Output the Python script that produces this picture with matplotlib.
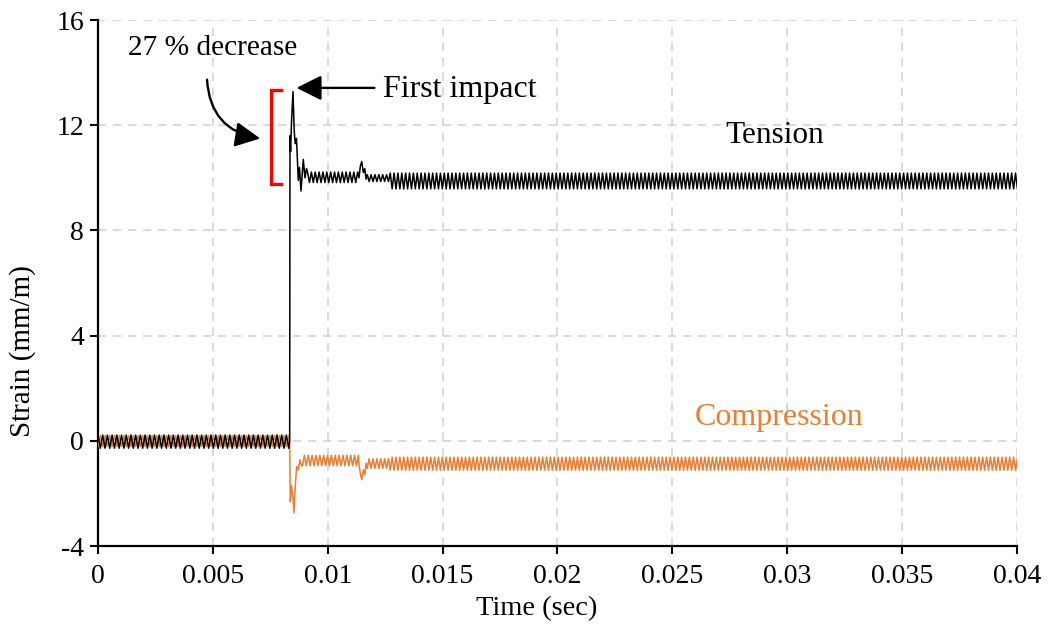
import numpy as np
import matplotlib
matplotlib.use("Agg")
import matplotlib.pyplot as plt
from matplotlib.patches import FancyArrowPatch

plt.rcParams['font.family'] = ['Liberation Serif', 'DejaVu Serif']

# ---- axes ----
x_ticks = [0, 0.005, 0.01, 0.015, 0.02, 0.025, 0.03, 0.035, 0.04]
x_tick_labels = ['0', '0.005', '0.01', '0.015', '0.02', '0.025', '0.03', '0.035', '0.04']
y_ticks = [-4, 0, 4, 8, 12, 16]
y_tick_labels = ['-4', '0', '4', '8', '12', '16']

# ---- oscillation periods (s) ----
period_before = 0.000205
period_after = 0.000168

# ---- tension gauge ----
# steady oscillation bands: start, end, upper, lower
tension_band_start = [0.0, 0.00912, 0.01172, 0.01272]
tension_band_end = [0.00833, 0.01130, 0.01268, 0.04000]
tension_band_upper = [0.22, 10.22, 10.12, 10.18]
tension_band_lower = [-0.28, 9.82, 9.86, 9.58]
# first impact
tension_impact_t = [0.008344, 0.008357, 0.008383, 0.008422, 0.008488, 0.008540,
                    0.008583, 0.008640, 0.008718, 0.008770, 0.008836, 0.008936,
                    0.009010, 0.009075]
tension_impact_v = [0.0, 11.6, 11.0, 12.1, 13.28, 11.8,
                    11.3, 11.5, 9.9, 10.4, 9.5, 10.7,
                    10.0, 10.35]
# second disturbance
tension_bump_t = [0.01136, 0.01142, 0.01148, 0.01155, 0.01161, 0.01167]
tension_bump_v = [10.0, 10.45, 10.62, 10.2, 10.35, 9.95]

# ---- compression gauge ----
compression_band_start = [0.0, 0.00890, 0.01172, 0.01272]
compression_band_end = [0.00833, 0.01130, 0.01268, 0.04000]
compression_band_upper = [0.20, -0.55, -0.68, -0.62]
compression_band_lower = [-0.22, -0.95, -1.05, -1.12]
compression_impact_t = [0.008344, 0.008370, 0.008422, 0.008488, 0.008531, 0.008596,
                        0.008649, 0.008718, 0.008792, 0.008858]
compression_impact_v = [-0.05, -2.3, -1.7, -2.2, -2.74, -1.6,
                        -0.98, -1.1, -0.72, -0.95]
compression_bump_t = [0.01136, 0.01142, 0.01148, 0.01155, 0.01161, 0.01167]
compression_bump_v = [-0.9, -1.25, -1.48, -1.1, -1.3, -0.85]


def band_trace(start, end, upper, lower, period, flip=False):
    """Saw-tooth trace alternating between the band's upper and lower values."""
    half = period / 2.0
    n = int(round((end - start) / half))
    t = start + half * np.arange(n + 1)
    hi_first = np.arange(n + 1) % 2 == 0
    if flip:
        hi_first = ~hi_first
    v = np.where(hi_first, upper, lower)
    return t, v


def build(bs, be, bu, bl, imp_t, imp_v, bump_t, bump_v, flip):
    pieces_t, pieces_v = [], []
    periods = [period_before] + [period_after] * (len(bs) - 1)
    for i in range(len(bs)):
        t, v = band_trace(bs[i], be[i], bu[i], bl[i], periods[i], flip)
        pieces_t.append(t)
        pieces_v.append(v)
        if i == 0:
            pieces_t.append(np.array(imp_t))
            pieces_v.append(np.array(imp_v))
        if i == 1:
            pieces_t.append(np.array(bump_t))
            pieces_v.append(np.array(bump_v))
    return np.concatenate(pieces_t), np.concatenate(pieces_v)


tension_t, tension_v = build(tension_band_start, tension_band_end, tension_band_upper,
                             tension_band_lower, tension_impact_t, tension_impact_v,
                             tension_bump_t, tension_bump_v, False)
compression_t, compression_v = build(compression_band_start, compression_band_end,
                                     compression_band_upper, compression_band_lower,
                                     compression_impact_t, compression_impact_v,
                                     compression_bump_t, compression_bump_v, True)

orange = '#ED7D31'

fig = plt.figure(figsize=(10.49, 6.42), dpi=100)
ax = fig.add_axes([0.0934, 0.1495, 0.8761, 0.8193])

ax.plot(compression_t, compression_v, color=orange, lw=1.1, zorder=3)
ax.plot(tension_t, tension_v, color='black', lw=1.1, zorder=4)

ax.set_xlim(0, 0.04)
ax.set_ylim(-4, 16)
ax.set_xticks(x_ticks)
ax.set_xticklabels(x_tick_labels)
ax.set_yticks(y_ticks)
ax.set_yticklabels(y_tick_labels)
ax.tick_params(axis='both', labelsize=20, length=6, width=1.5, direction='out')
ax.tick_params(axis='y', pad=4)
ax.tick_params(axis='x', pad=7)
ax.grid(True, color='#d4d4d4', linestyle=(0, (5, 4)), lw=1.2)
ax.set_axisbelow(True)
for s in ('top', 'right'):
    ax.spines[s].set_visible(False)
for s in ('left', 'bottom'):
    ax.spines[s].set_linewidth(1.6)

ax.set_xlabel('Time (sec)', fontsize=20.5)
ax.xaxis.set_label_coords(0.477, -0.095)
ax.set_ylabel('Strain (mm/m)', fontsize=21)
ax.yaxis.set_label_coords(-0.067, 0.37)

# ---- annotations ----
ax.text(0.001306, 14.68, '27 % decrease', fontsize=21.2, ha='left', va='baseline')
ax.text(0.01240, 13.09, 'First impact', fontsize=23, ha='left', va='baseline')
ax.text(0.02729, 11.32, 'Tension', fontsize=22.5, ha='left', va='baseline')
ax.text(0.02598, 0.61, 'Compression', fontsize=23, ha='left', va='baseline',
        color=orange)

# red bracket spanning the drop from the peak
bracket_x = [0.00797, 0.00755, 0.00755, 0.00797]
bracket_y = [13.35, 13.35, 9.77, 9.77]
ax.plot(bracket_x, bracket_y, color='#ff0000', lw=2.4, solid_joinstyle='miter', zorder=5)

curved = FancyArrowPatch((0.00474, 13.84), (0.00718, 11.48),
                         connectionstyle='arc3,rad=0.42',
                         arrowstyle='-|>,head_length=0.9,head_width=0.45',
                         mutation_scale=17, lw=1.7, color='black', zorder=6)
ax.add_patch(curved)

straight = FancyArrowPatch((0.01215, 13.42), (0.00852, 13.42),
                           arrowstyle='-|>,head_length=0.9,head_width=0.45',
                           mutation_scale=17, lw=1.7, color='black', zorder=6)
ax.add_patch(straight)

fig.savefig('out.png', dpi=100)
